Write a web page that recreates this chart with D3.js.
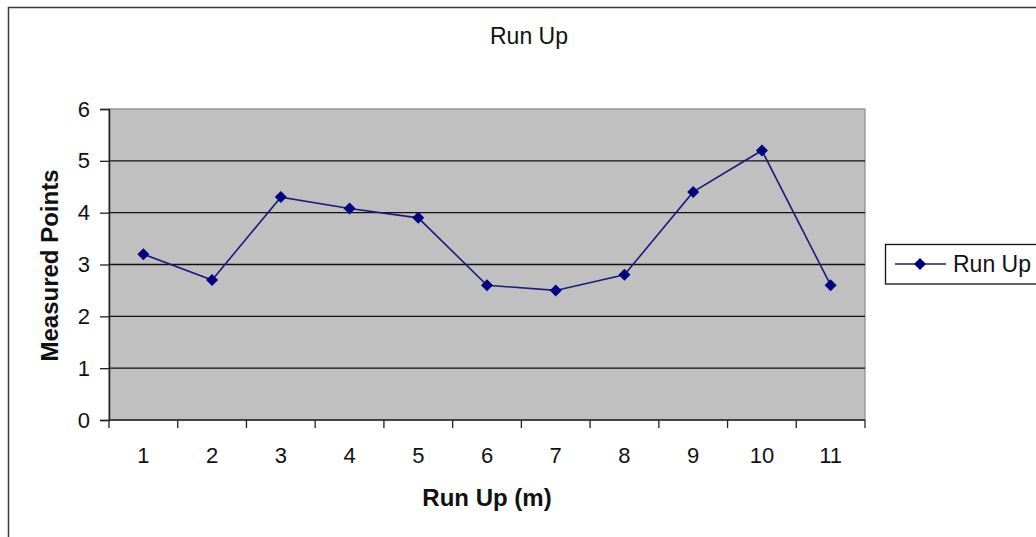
<!DOCTYPE html>
<html>
<head>
<meta charset="utf-8">
<script src="https://cdn.jsdelivr.net/npm/d3@7"></script>
<style>
  html, body { margin: 0; padding: 0; background: #fff; }
  svg { display: block; font-family: "Liberation Sans", Arial, sans-serif; }
</style>
</head>
<body>
<svg id="chart" width="1036" height="537"></svg>
<script>
// Run-up distance (m) against measured points
const categories = ["1", "2", "3", "4", "5", "6", "7", "8", "9", "10", "11"];
const values = [3.2, 2.7, 4.3, 4.08, 3.9, 2.6, 2.5, 2.8, 4.4, 5.2, 2.6];
const yTicks = [0, 1, 2, 3, 4, 5, 6];
const seriesName = "Run Up";
const chartTitle = "Run Up";
const xTitle = "Run Up (m)";
const yTitle = "Measured Points";

const svg = d3.select("#chart");
const W = 1036, H = 537;
const plot = { left: 109, top: 109, right: 865, bottom: 420 };

// outer chart frame
svg.append("rect")
  .attr("x", 8.5).attr("y", 7.5)
  .attr("width", W + 10).attr("height", H + 10)
  .attr("fill", "#fff").attr("stroke", "#3a3a3a").attr("stroke-width", 1.5);

const x = d3.scaleBand().domain(categories).range([plot.left, plot.right]);
const y = d3.scaleLinear().domain([0, 6]).range([plot.bottom, plot.top]);

// plot area
svg.append("rect")
  .attr("x", plot.left).attr("y", plot.top)
  .attr("width", plot.right - plot.left).attr("height", plot.bottom - plot.top)
  .attr("fill", "#c0c0c0").attr("stroke", "#8a8a8a").attr("stroke-width", 1.2);

// horizontal gridlines
svg.append("g").selectAll("line")
  .data(yTicks.filter(t => t > 0 && t < 6))
  .join("line")
  .attr("x1", plot.left).attr("x2", plot.right)
  .attr("y1", d => y(d)).attr("y2", d => y(d))
  .attr("stroke", "#111").attr("stroke-width", 1.4);

// y axis
const yAxis = svg.append("g")
  .attr("transform", `translate(${plot.left},0)`)
  .call(d3.axisLeft(y).tickValues(yTicks).tickSize(9).tickPadding(10).tickFormat(d3.format("d")));
yAxis.select(".domain").attr("stroke", "#222").attr("stroke-width", 1.5);
yAxis.selectAll(".tick line").attr("stroke", "#222").attr("stroke-width", 1.3);
yAxis.selectAll(".tick text")
  .attr("font-size", 22).attr("fill", "#111")
  .attr("font-family", "'Liberation Sans', Arial, sans-serif");

// x axis: ticks on category boundaries
const xAxisG = svg.append("g").attr("transform", `translate(0,${plot.bottom})`);
const edges = categories.map(c => x(c)).concat([plot.right]);
xAxisG.append("line")
  .attr("x1", plot.left).attr("x2", plot.right)
  .attr("y1", 0).attr("y2", 0)
  .attr("stroke", "#222").attr("stroke-width", 1.5);
xAxisG.selectAll("line.tk")
  .data(edges).join("line").attr("class", "tk")
  .attr("x1", d => d).attr("x2", d => d)
  .attr("y1", 0).attr("y2", 8)
  .attr("stroke", "#222").attr("stroke-width", 1.3);
xAxisG.selectAll("text")
  .data(categories).join("text")
  .attr("x", d => x(d) + x.bandwidth() / 2)
  .attr("y", 43)
  .attr("text-anchor", "middle")
  .attr("font-size", 22).attr("fill", "#111")
  .text(d => d);

// series line
const pts = categories.map((c, i) => [x(c) + x.bandwidth() / 2, y(values[i])]);
svg.append("path")
  .attr("d", d3.line()(pts))
  .attr("fill", "none").attr("stroke", "#1a1a80").attr("stroke-width", 1.6);

// diamond markers
const diamond = r => `M0,${-r}L${r},0L0,${r}L${-r},0Z`;
svg.append("g").selectAll("path")
  .data(pts).join("path")
  .attr("transform", d => `translate(${d[0]},${d[1]})`)
  .attr("d", diamond(6))
  .attr("fill", "#000080");

// titles
svg.append("text")
  .attr("x", 529).attr("y", 44)
  .attr("text-anchor", "middle").attr("font-size", 23).attr("fill", "#111")
  .text(chartTitle);

svg.append("text")
  .attr("x", (plot.left + plot.right) / 2).attr("y", 506)
  .attr("text-anchor", "middle").attr("font-size", 24).attr("font-weight", "bold").attr("fill", "#111")
  .text(xTitle);

svg.append("text")
  .attr("transform", `translate(58,${(plot.top + plot.bottom) / 2 + 1}) rotate(-90)`)
  .attr("text-anchor", "middle").attr("font-size", 24).attr("font-weight", "bold").attr("fill", "#111")
  .text(yTitle);

// legend
const lg = svg.append("g");
lg.append("rect")
  .attr("x", 885.5).attr("y", 244.5).attr("width", 160).attr("height", 39.5)
  .attr("fill", "#fff").attr("stroke", "#111").attr("stroke-width", 1.3);
lg.append("line")
  .attr("x1", 895).attr("x2", 946).attr("y1", 264).attr("y2", 264)
  .attr("stroke", "#1a1a80").attr("stroke-width", 1.6);
lg.append("path")
  .attr("transform", "translate(920,264)")
  .attr("d", diamond(6)).attr("fill", "#000080");
lg.append("text")
  .attr("x", 953).attr("y", 272)
  .attr("font-size", 23).attr("fill", "#111")
  .text(seriesName);
</script>
</body>
</html>
